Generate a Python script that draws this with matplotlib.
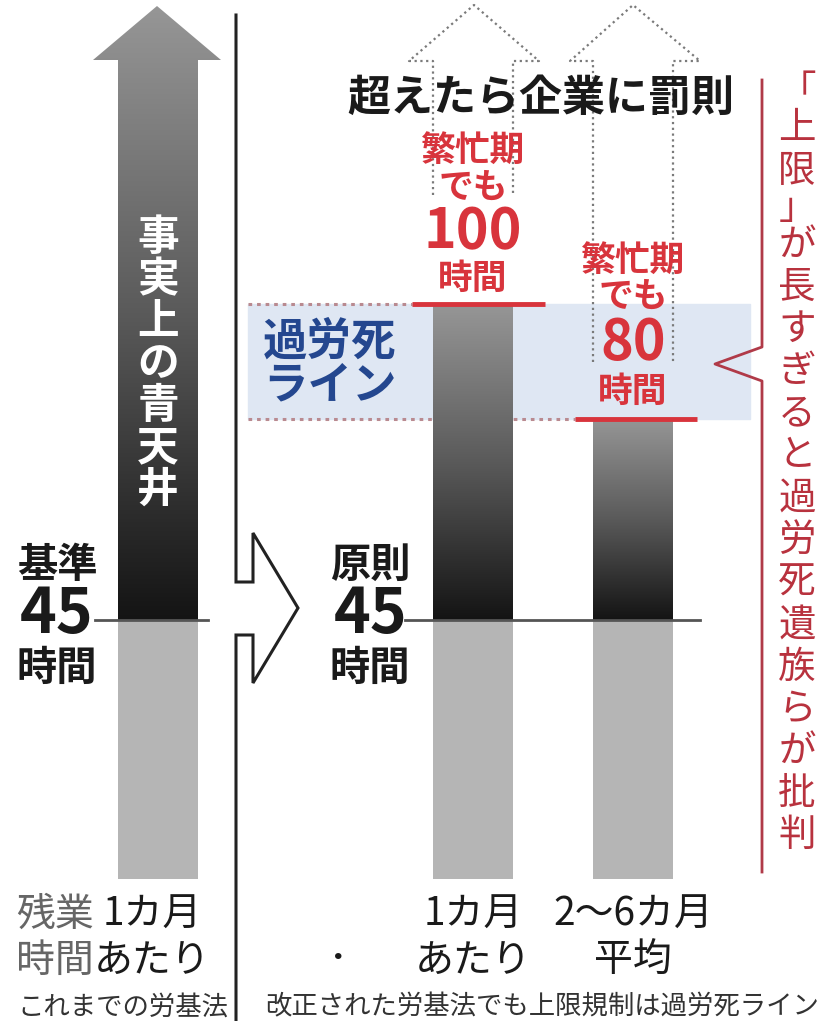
import numpy as np
import matplotlib.pyplot as plt
from matplotlib.patches import Polygon
from matplotlib.colors import LinearSegmentedColormap

plt.rcParams['font.family'] = ['Noto Sans CJK JP', 'DejaVu Sans']

# --- datos ---
old_limit = 45                      # これまでの基準（時間）
new_limit = 45                      # 改正後の原則（時間）
cap_hours = [100, 80]               # 繁忙期の上限
cap_periods = [['1カ月', 'あたり'], ['2〜6カ月', '平均']]
old_period = ['1カ月', 'あたり']
death_line = [80, 100]              # 過労死ライン

# --- escala: y en horas, x en píxeles ---
W, H = 825, 1021
ZERO_PX = 878.5
PX_H = 5.745


def hy(py):
    return (ZERO_PX - py) / PX_H


fig = plt.figure(figsize=(8.25, 10.21), dpi=100)
ax = fig.add_axes([0, 0, 1, 1])
ax.set_xlim(0, W)
ax.set_ylim(hy(H), hy(0))
ax.axis('off')

RED = '#d8343c'
gray_grad = LinearSegmentedColormap.from_list('g', ['#141414', '#5a5a5a', '#969696'])
grad = np.linspace(0, 1, 256).reshape(-1, 1)

# 過労死ライン band
ax.fill_between([248, 750], death_line[0], death_line[1], color='#dfe7f3', zorder=0)
ax.hlines(death_line[1], 248, 412, colors='#b98a90', lw=2.2, linestyles=(0, (1.2, 1.6)), zorder=1)
ax.hlines(death_line[0], 248, 575, colors='#b98a90', lw=2.2, linestyles=(0, (1.2, 1.6)), zorder=1)

# left: gray base + open-ended arrow
left_x = 158
ax.bar(left_x, old_limit, width=80, color='#b5b5b5', zorder=2)
arrow = Polygon([(118, old_limit), (118, hy(60)), (93, hy(60)), (157, hy(6)),
                 (221, hy(60)), (198, hy(60)), (198, old_limit)],
                closed=True, fc='none', ec='none', zorder=2)
ax.add_patch(arrow)
im = ax.imshow(grad, cmap=gray_grad, origin='lower', aspect='auto',
               extent=[93, 221, old_limit, hy(6)], zorder=2)
im.set_clip_path(arrow)

# right: bars
bar_x = [473, 633]
ax.bar(bar_x, [new_limit] * 2, width=80, color='#b5b5b5', zorder=2)
tops = ax.bar(bar_x, [c - new_limit for c in cap_hours], bottom=new_limit,
              width=80, fc='none', ec='none', zorder=2)
for p in tops.patches:
    x0, y0 = p.get_x(), p.get_y()
    img = ax.imshow(grad, cmap=gray_grad, origin='lower', aspect='auto',
                    extent=[x0, x0 + p.get_width(), y0, y0 + p.get_height()], zorder=2)
    img.set_clip_path(p)

# 45-hour lines
ax.plot([95, 208], [old_limit] * 2, color='#555555', lw=2, zorder=3)
ax.plot([405, 700], [new_limit] * 2, color='#555555', lw=2, zorder=3)

# red cap lines
cap_spans = [(412, 545), (575, 697)]
for (a, b), c in zip(cap_spans, cap_hours):
    ax.plot([a, b], [c, c], color=RED, lw=3.5, solid_capstyle='butt', zorder=3)

# dotted hollow arrows above the bars
dot_arrows = [
    ([433, 433, 409, 474, 539, 513, 513], [195, 61, 61, 5, 61, 61, 195]),
    ([593, 593, 570, 633, 700, 673, 673], [362, 61, 61, 5, 61, 61, 362]),
]
for xs, ys in dot_arrows:
    ax.plot(xs, [hy(v) for v in ys], color='#7a7a7a', lw=1.6,
            linestyle=(0, (1, 1.6)), zorder=1)

# divider with arrow
div_x = [236, 236, 253, 253, 298, 253, 253, 236, 236]
div_y = [15, 582, 582, 533, 608, 683, 635, 635, 1021]
ax.plot(div_x, [hy(v) for v in div_y], color='#222222', lw=2.2,
        solid_joinstyle='miter', zorder=3)

# right bracket
br_x = [762, 762, 715, 762, 762]
br_y = [80, 347, 364, 381, 872]
ax.plot(br_x, [hy(v) for v in br_y], color='#b03a48', lw=2, zorder=3)


def txt(x, py, s, size, color='#1a1a1a', weight='normal', **kw):
    ax.text(x, hy(py), s, fontsize=size, color=color, weight=weight,
            ha='center', va='center', zorder=5, **kw)


# vertical text in the arrow
for i, ch in enumerate('事実上の青天井'):
    txt(158, 238 + i * 42, ch, 30, color='white', weight='bold')

# left labels
txt(57, 565, '基準', 29, weight='bold')
txt(57, 614, str(old_limit), 45, weight='bold')
txt(57, 668, '時間', 29, weight='bold')

txt(370, 565, '原則', 29, weight='bold')
txt(371, 614, str(new_limit), 45, weight='bold')
txt(370, 668, '時間', 29, weight='bold')

# headline
txt(541, 98, '超えたら企業に罰則', 31, weight='bold')

# cap labels
cap_label_y = [(150, 187, 232, 278), (260, 296, 343, 391)]
for bx, c, (y1, y2, y3, y4) in zip(bar_x, cap_hours, cap_label_y):
    txt(bx, y1, '繁忙期', 25, color=RED, weight='bold')
    txt(bx, y2, 'でも', 25, color=RED, weight='bold')
    txt(bx, y3, str(c), 40, color=RED, weight='bold')
    txt(bx, y4, '時間', 25, color=RED, weight='bold')

# 過労死ライン label
txt(330, 342, '過労死', 32, color='#24478f', weight='bold')
txt(330, 385, 'ライン', 32, color='#24478f', weight='bold')

# red vertical comment
comment = '「上限」が長すぎると過労死遺族らが批判'
yy = 92
prev_half = True
for i, ch in enumerate(comment):
    half = ch in '「」'
    if i > 0:
        yy += 42.2 * ((0.75 if half else 1) + (0.75 if prev_half else 1)) / 2
    txt(797, yy, ch, 27, color='#b8323e')
    prev_half = half

# bottom labels
txt(55, 915, '残業', 28, color='#666666')
txt(55, 961, '時間', 28, color='#666666')
txt(152, 915, old_period[0], 28)
txt(152, 961, old_period[1], 28)
txt(338, 958, '・', 22)
for bx, (l1, l2) in zip(bar_x, cap_periods):
    txt(bx, 915, l1, 28)
    txt(bx, 961, l2, 28)

txt(123, 1007, 'これまでの労基法', 19, color='#333333')
txt(542, 1007, '改正された労基法でも上限規制は過労死ライン', 19, color='#333333')

fig.savefig('out.png', dpi=100)
